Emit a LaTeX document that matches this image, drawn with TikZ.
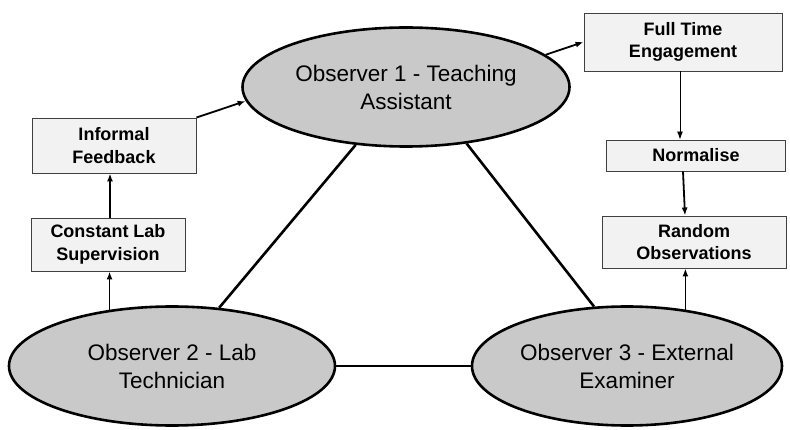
\documentclass[tikz,border=0pt]{standalone}
\usepackage{fontspec}
\setmainfont{Liberation Sans}
\usetikzlibrary{arrows.meta,shapes.geometric}
\begin{document}
\begin{tikzpicture}[x=1pt,y=-1pt]
\tikzset{observer/.style={ellipse,draw=black,line width=2.6pt,fill=black!21,inner sep=0pt,
  align=center,font=\fontsize{22.5}{28}\selectfont}}
\tikzset{stage/.style={rectangle,draw=black!75,line width=0.9pt,fill=black!5,inner sep=0pt,
  align=center,font=\fontsize{18}{22.5}\selectfont\bfseries}}
\tikzset{arr/.style={-{Latex[length=8pt,width=6pt]},line width=1.8pt}}
\tikzset{link/.style={line width=2.6pt}}
\useasboundingbox (0,0) rectangle (790,430);
% observers
\node[observer,minimum width=327pt,minimum height=119pt] (obsA) at (406,87) {Observer 1 - Teaching\\Assistant};
\node[observer,minimum width=326pt,minimum height=119pt] (obsB) at (172,366) {Observer 2 - Lab\\Technician};
\node[observer,minimum width=310pt,minimum height=119pt] (obsC) at (627,366) {Observer 3 - External\\Examiner};
% left stages
\node[stage,minimum width=164pt,minimum height=55pt] (feedback) at (114,145.5) {Informal\\Feedback};
\node[stage,minimum width=154pt,minimum height=53pt] (supervision) at (108,244.5) {Constant Lab\\Supervision};
% right stages
\node[stage,minimum width=198pt,minimum height=58pt] (engagement) at (683,42) {Full Time\\Engagement};
\node[stage,minimum width=179pt,minimum height=31pt] (normalise) at (696,155.5) {Normalise};
\node[stage,minimum width=184pt,minimum height=52pt] (random) at (694,242) {Random\\Observations};
% triangle
\draw[link] (obsA.229) -- (obsB.51);
\draw[link] (obsA.317) -- (obsC.119);
\draw[link] (obsB.east) -- (obsC.west);
% flows
\draw[arr] (obsB.138) -- (supervision.south -| obsB.138);
\draw[arr] ([xshift=2pt]supervision.north) -- ([xshift=2pt]supervision.north |- feedback.south);
\draw[arr] (feedback.north east) -- (obsA.185);
\draw[arr] (obsA.13) -- (engagement.west);
\draw[arr,line width=0.9pt] ([xshift=-3pt]engagement.south) -- ([xshift=-3pt]engagement.south |- normalise.north);
\draw[arr] ([xshift=-13pt]normalise.south) -- ([xshift=-9pt]random.north);
\draw[arr] (obsC.44) -- (obsC.44 |- random.south);
\end{tikzpicture}
\end{document}
